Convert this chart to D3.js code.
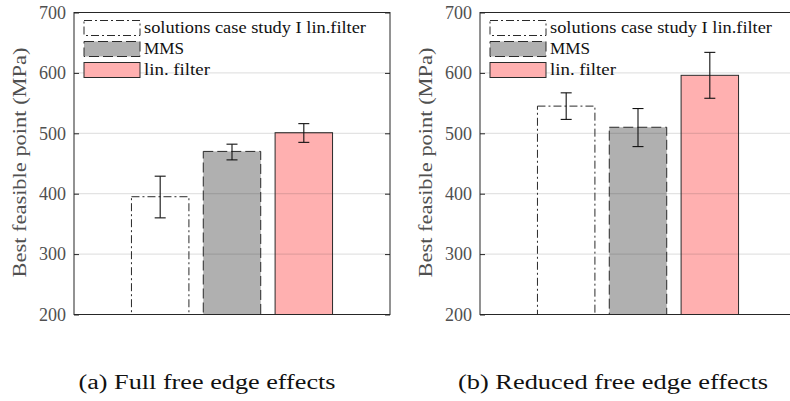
<!DOCTYPE html>
<html>
<head>
<meta charset="utf-8">
<script src="https://cdn.jsdelivr.net/npm/d3@7"></script>
<style>
  body { margin: 0; background: #fff; }
  svg text { font-family: "Liberation Serif", "DejaVu Serif", serif; }
</style>
</head>
<body>
<div id="chart"></div>
<script>
// data
var seriesNames = ["solutions case study I lin.filter", "MMS", "lin. filter"];
var panelCaptions = ["(a) Full free edge effects", "(b) Reduced free edge effects"];
var fullValues = [395, 470, 501];
var fullLow = [360, 456, 485];
var fullHigh = [429, 482, 516];
var reducedValues = [545, 510, 596];
var reducedLow = [523, 478, 558];
var reducedHigh = [567, 541, 634];
var yTicks = [200, 300, 400, 500, 600, 700];

// styling
var fills = ["none", "#b0b0b0", "#ffb0b0"];
var dashes = ["8,3,2,3", "10,4", null];
// the original font (Computer Modern) runs wider, so stretch the text to its width
var legendLen = [222, 40, 66];
var captionLen = [257, 310];

var width = 790, height = 401;
var svg = d3.select("#chart").append("svg")
    .attr("width", width)
    .attr("height", height);

var pw = 316, ph = 302;   // plot box size

function drawPanel(k, left, top, values, lows, highs) {
  var g = svg.append("g").attr("transform", "translate(" + left + "," + top + ")");

  var x = d3.scaleLinear().domain([-0.2, 4.2]).range([0, pw]);
  var y = d3.scaleLinear().domain([200, 700]).range([ph, 0]);
  var bw = x(0.8) - x(0);

  // bars
  g.selectAll("rect.bar")
      .data(values)
      .enter().append("rect")
      .attr("class", "bar")
      .attr("x", function(d, i) { return x(i + 1) - bw / 2; })
      .attr("y", function(d) { return y(d); })
      .attr("width", bw)
      .attr("height", function(d) { return y(200) - y(d); })
      .attr("fill", function(d, i) { return fills[i]; })
      .attr("stroke", "#2a2a2a")
      .attr("stroke-width", 1)
      .attr("stroke-dasharray", function(d, i) { return dashes[i]; });

  // grid lines on top, faint
  g.append("g")
      .selectAll("line")
      .data(yTicks.slice(1, -1))
      .enter().append("line")
      .attr("x1", 0).attr("x2", pw)
      .attr("y1", function(d) { return y(d); })
      .attr("y2", function(d) { return y(d); })
      .attr("stroke", "#262626")
      .attr("stroke-opacity", 0.13)
      .attr("stroke-width", 1.2);

  // error bars
  var eb = g.append("g").attr("stroke", "#111").attr("stroke-width", 1.1);
  values.forEach(function(d, i) {
    var cx = x(i + 1);
    eb.append("line").attr("x1", cx).attr("x2", cx).attr("y1", y(lows[i])).attr("y2", y(highs[i]));
    eb.append("line").attr("x1", cx - 5.5).attr("x2", cx + 5.5).attr("y1", y(lows[i])).attr("y2", y(lows[i]));
    eb.append("line").attr("x1", cx - 5.5).attr("x2", cx + 5.5).attr("y1", y(highs[i])).attr("y2", y(highs[i]));
  });

  // axes
  var yAxis = d3.axisLeft(y).tickValues(yTicks).tickSize(-5).tickPadding(8).tickFormat(d3.format("d"));
  var ya = g.append("g").call(yAxis);
  ya.select(".domain").remove();
  ya.selectAll("line").attr("stroke", "#262626");
  ya.selectAll("text").attr("fill", "#505050").style("font-size", "18px")
      .attr("textLength", 27).attr("lengthAdjust", "spacingAndGlyphs");

  var yr = g.append("g").attr("transform", "translate(" + pw + ",0)")
      .call(d3.axisRight(y).tickValues(yTicks).tickSize(-5).tickFormat(""));
  yr.select(".domain").remove();
  yr.selectAll("line").attr("stroke", "#262626");

  g.append("rect")
      .attr("x", 0).attr("y", 0)
      .attr("width", pw).attr("height", ph)
      .attr("fill", "none")
      .attr("stroke", "#262626")
      .attr("stroke-width", 1);

  g.append("text")
      .attr("transform", "translate(-48," + (ph / 2 - 1) + ") rotate(-90)")
      .attr("text-anchor", "middle")
      .attr("fill", "#505050")
      .style("font-size", "19.5px")
      .attr("textLength", 230)
      .attr("lengthAdjust", "spacingAndGlyphs")
      .text("Best feasible point (MPa)");

  // legend
  var lg = g.append("g").selectAll("g")
      .data(seriesNames)
      .enter().append("g")
      .attr("transform", function(d, i) { return "translate(10," + (8 + i * 21) + ")"; });

  lg.append("rect")
      .attr("width", 56).attr("height", 15)
      .attr("fill", function(d, i) { return fills[i] === "none" ? "#fff" : fills[i]; })
      .attr("stroke", "#2a2a2a")
      .attr("stroke-dasharray", function(d, i) { return dashes[i]; });

  lg.append("text")
      .attr("x", 60).attr("y", 12.5)
      .attr("fill", "#111")
      .style("font-size", "16px")
      .attr("textLength", function(d, i) { return legendLen[i]; })
      .attr("lengthAdjust", "spacingAndGlyphs")
      .text(function(d) { return d; });

  // caption
  g.append("text")
      .attr("x", pw / 2 - 25)
      .attr("y", 389 - top)
      .attr("text-anchor", "middle")
      .attr("fill", "#111")
      .style("font-size", "20px")
      .attr("textLength", captionLen[k])
      .attr("lengthAdjust", "spacingAndGlyphs")
      .text(panelCaptions[k]);
}

drawPanel(0, 74, 12.5, fullValues, fullLow, fullHigh);
drawPanel(1, 480, 12.5, reducedValues, reducedLow, reducedHigh);
</script>
</body>
</html>
